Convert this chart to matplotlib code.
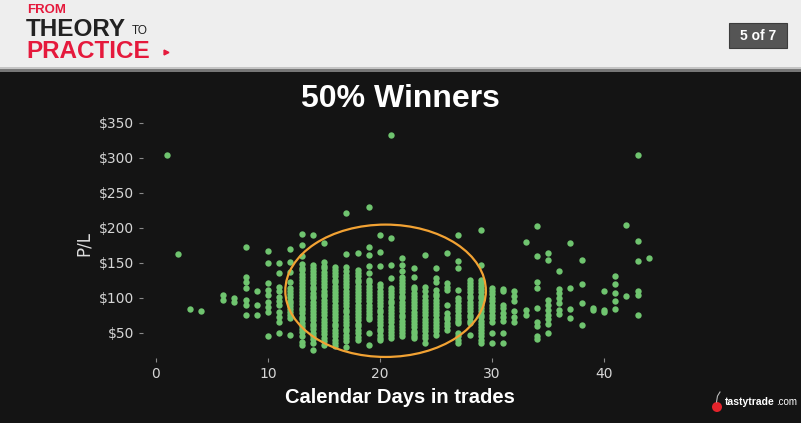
import numpy as np
import matplotlib.pyplot as plt
from matplotlib.patches import Ellipse, Rectangle, Circle

# ------------------------------------------------------------
# data: P/L of each trade, grouped by days in trade
cal_days = [1, 2, 3, 4, 6, 7, 8, 9, 10, 11, 12, 13, 14, 15, 16, 17, 18, 19, 20,
            21, 22, 23, 24, 25, 26, 27, 28, 29, 30, 31, 32, 33, 34, 35, 36, 37,
            38, 39, 40, 41, 42, 43, 44]

pl_by_day = [
    [304],
    [163],
    [84],
    [81],
    [104, 97],
    [100, 94],
    [173, 130, 123, 114, 97, 89, 76],
    [109, 89, 76],
    [167, 150, 121, 111, 104, 94, 87, 80, 46],
    [150, 136, 116, 109, 101, 95, 90, 80, 73, 66, 49],
    [170, 151, 137, 122, 114, 110, 105, 101, 96, 92, 88, 84, 80, 75, 71, 47],
    [191, 176, 159, 148, 143, 139, 134, 130, 125, 121, 117, 113, 108, 104, 99,
     95, 91, 86, 82, 78, 73, 69, 64, 60, 55, 51, 46, 37, 33],
    [189, 147, 143, 138, 134, 129, 125, 121, 116, 112, 107, 103, 99, 94, 90,
     85, 81, 77, 72, 68, 63, 59, 55, 50, 46, 41, 35, 25],
    [178, 151, 146, 142, 137, 133, 128, 124, 119, 115, 110, 106, 102, 97, 93,
     88, 84, 79, 75, 70, 66, 61, 57, 52, 48, 43, 38, 33],
    [144, 140, 135, 131, 126, 122, 117, 113, 108, 104, 99, 95, 90, 86, 81,
     77, 72, 68, 63, 59, 54, 50, 45, 40, 35, 31],
    [221, 162, 144, 138, 133, 128, 124, 119, 115, 110, 106, 101, 97, 92, 88,
     83, 79, 74, 70, 65, 61, 56, 52, 47, 43, 38, 30],
    [164, 140, 135, 131, 126, 122, 117, 113, 108, 104, 99, 95, 90, 86, 81,
     77, 72, 68, 63, 59, 54, 49, 44, 40],
    [230, 173, 161, 145, 136, 126, 122, 117, 113, 108, 104, 99, 95, 90, 86,
     81, 77, 72, 69, 50, 33],
    [189, 166, 145, 119, 115, 110, 106, 101, 97, 92, 88, 83, 79, 74, 70,
     65, 61, 56, 52, 47, 43, 40],
    [333, 186, 147, 128, 114, 110, 105, 101, 96, 92, 87, 83, 78, 74, 69,
     65, 60, 56, 51, 47, 43],
    [157, 147, 138, 130, 126, 121, 117, 112, 108, 103, 99, 94, 90, 85, 81,
     76, 72, 67, 63, 58, 54, 49, 45],
    [142, 130, 116, 112, 107, 103, 98, 94, 89, 85, 80, 76, 71, 67, 62,
     58, 53, 49, 45, 42],
    [161, 116, 109, 102, 97, 93, 88, 84, 79, 75, 70, 66, 61, 57, 52, 47, 42, 35],
    [142, 128, 123, 111, 106, 102, 97, 93, 88, 84, 79, 75, 70, 66, 61, 57, 52, 47],
    [164, 121, 116, 111, 90, 78, 73, 69, 64, 59, 54],
    [190, 152, 142, 111, 99, 95, 90, 85, 81, 76, 71, 67, 64, 50, 45, 40, 35],
    [126, 121, 117, 112, 108, 103, 99, 94, 90, 85, 81, 76, 72, 67, 64, 47],
    [197, 147, 126, 121, 117, 112, 108, 103, 99, 94, 90, 85, 81, 76, 72,
     67, 63, 58, 54, 49, 45, 40, 35],
    [114, 109, 105, 100, 95, 90, 85, 81, 76, 71, 66, 50, 35],
    [112, 109, 90, 85, 78, 73, 67, 50, 36],
    [109, 102, 95, 81, 73, 66],
    [179, 83, 76],
    [203, 160, 123, 114, 85, 66, 59, 45, 41],
    [164, 154, 97, 90, 83, 76, 69, 63, 50],
    [138, 112, 107, 99, 92, 83, 77],
    [178, 114, 84, 71],
    [154, 120, 93, 61],
    [86, 82],
    [109, 83, 79],
    [131, 120, 107, 96, 84],
    [204, 103],
    [304, 181, 153, 109, 104, 76],
    [157],
]

x_ticks = [0, 10, 20, 30, 40]
y_ticks = [50, 100, 150, 200, 250, 300, 350]

chart_title = "50% Winners"
x_title = "Calendar Days in trades"
y_title = "P/L"

# ------------------------------------------------------------
xs = np.repeat(cal_days, [len(v) for v in pl_by_day])
ys = np.concatenate([np.array(v, dtype=float) for v in pl_by_day])

W, H = 801, 423
fig = plt.figure(figsize=(W / 100, H / 100), dpi=100)
fig.patch.set_facecolor('#141414')

# background layer in pixel coords (header, logo, titles)
bg = fig.add_axes([0, 0, 1, 1], zorder=0)
bg.set_xlim(0, W)
bg.set_ylim(H, 0)
bg.axis('off')

bg.add_patch(Rectangle((0, 0), W, 67, color='#eeeeee', lw=0))
bg.add_patch(Rectangle((0, 67), W, 2, color='#c4c4c4', lw=0))
bg.add_patch(Rectangle((0, 69), W, 3, color='#777777', lw=0))

red = '#e5193c'
hdr_font = 'Liberation Sans'
bg.text(27, 13, 'FROM', color=red, fontsize=9.5, weight='bold',
        family=hdr_font, va='baseline')
bg.text(26, 35.5, 'THEORY', color='#222222', fontsize=17.5, weight='bold',
        family=hdr_font, va='baseline')
bg.text(132, 34, 'TO', color='#222222', fontsize=8.5, family=hdr_font,
        va='baseline')
bg.text(26, 58.5, 'PRACTICE', color=red, fontsize=17.5, weight='bold',
        family=hdr_font, va='baseline')
bg.plot([166], [52], marker='>', color=red, markersize=3.5)

bg.add_patch(Rectangle((729, 23), 58, 25, fc='#555555', ec='#3c3c3c', lw=0.8))
bg.text(758, 36, '5 of 7', color='white', fontsize=10, weight='bold',
        family=hdr_font, ha='center', va='center')

bg.text(400, 107, chart_title, color='white', fontsize=23, weight='bold',
        family=hdr_font, ha='center', va='baseline')
bg.text(400, 403, x_title, color='white', fontsize=14.5, weight='bold',
        family=hdr_font, ha='center', va='baseline')
bg.text(84, 243, y_title, color='#dddddd', fontsize=12, rotation=90,
        ha='center', va='center')

# tastytrade logo
bg.add_patch(Circle((717, 407), 5, color='#e3232b', lw=0))
bg.plot([716.5, 717.5, 720], [402, 396, 392], color='#bbbbbb', lw=0.8)
bg.text(725, 402, 'tastytrade', color='white', fontsize=7.5, weight='bold',
        family=hdr_font, va='center')
bg.text(776, 402, '.com', color='white', fontsize=7, family=hdr_font,
        va='center')

# ------------------------------------------------------------
ax = fig.add_axes([143 / W, 1 - 358 / H, 530 / W, 243 / H], zorder=1)
ax.set_facecolor('none')
for s in ax.spines.values():
    s.set_visible(False)

ax.scatter(xs, ys, s=21, color='#6fc46f', linewidths=0, zorder=2)

ax.add_patch(Ellipse((20.5, 110), 17.9, 189, fill=False, ec='#f2a233',
                     lw=1.6, zorder=3, clip_on=False))

ax.set_xlim(-1.15, 46.15)
ax.set_ylim(14, 361)
ax.set_xticks(x_ticks)
ax.set_yticks(y_ticks)
ax.set_yticklabels([f'${v}' for v in y_ticks])
ax.tick_params(colors='#8a8a8a', labelcolor='#d6d6d6', labelsize=10,
               length=3, width=0.8)

fig.savefig('out.png', dpi=100, facecolor=fig.get_facecolor())
